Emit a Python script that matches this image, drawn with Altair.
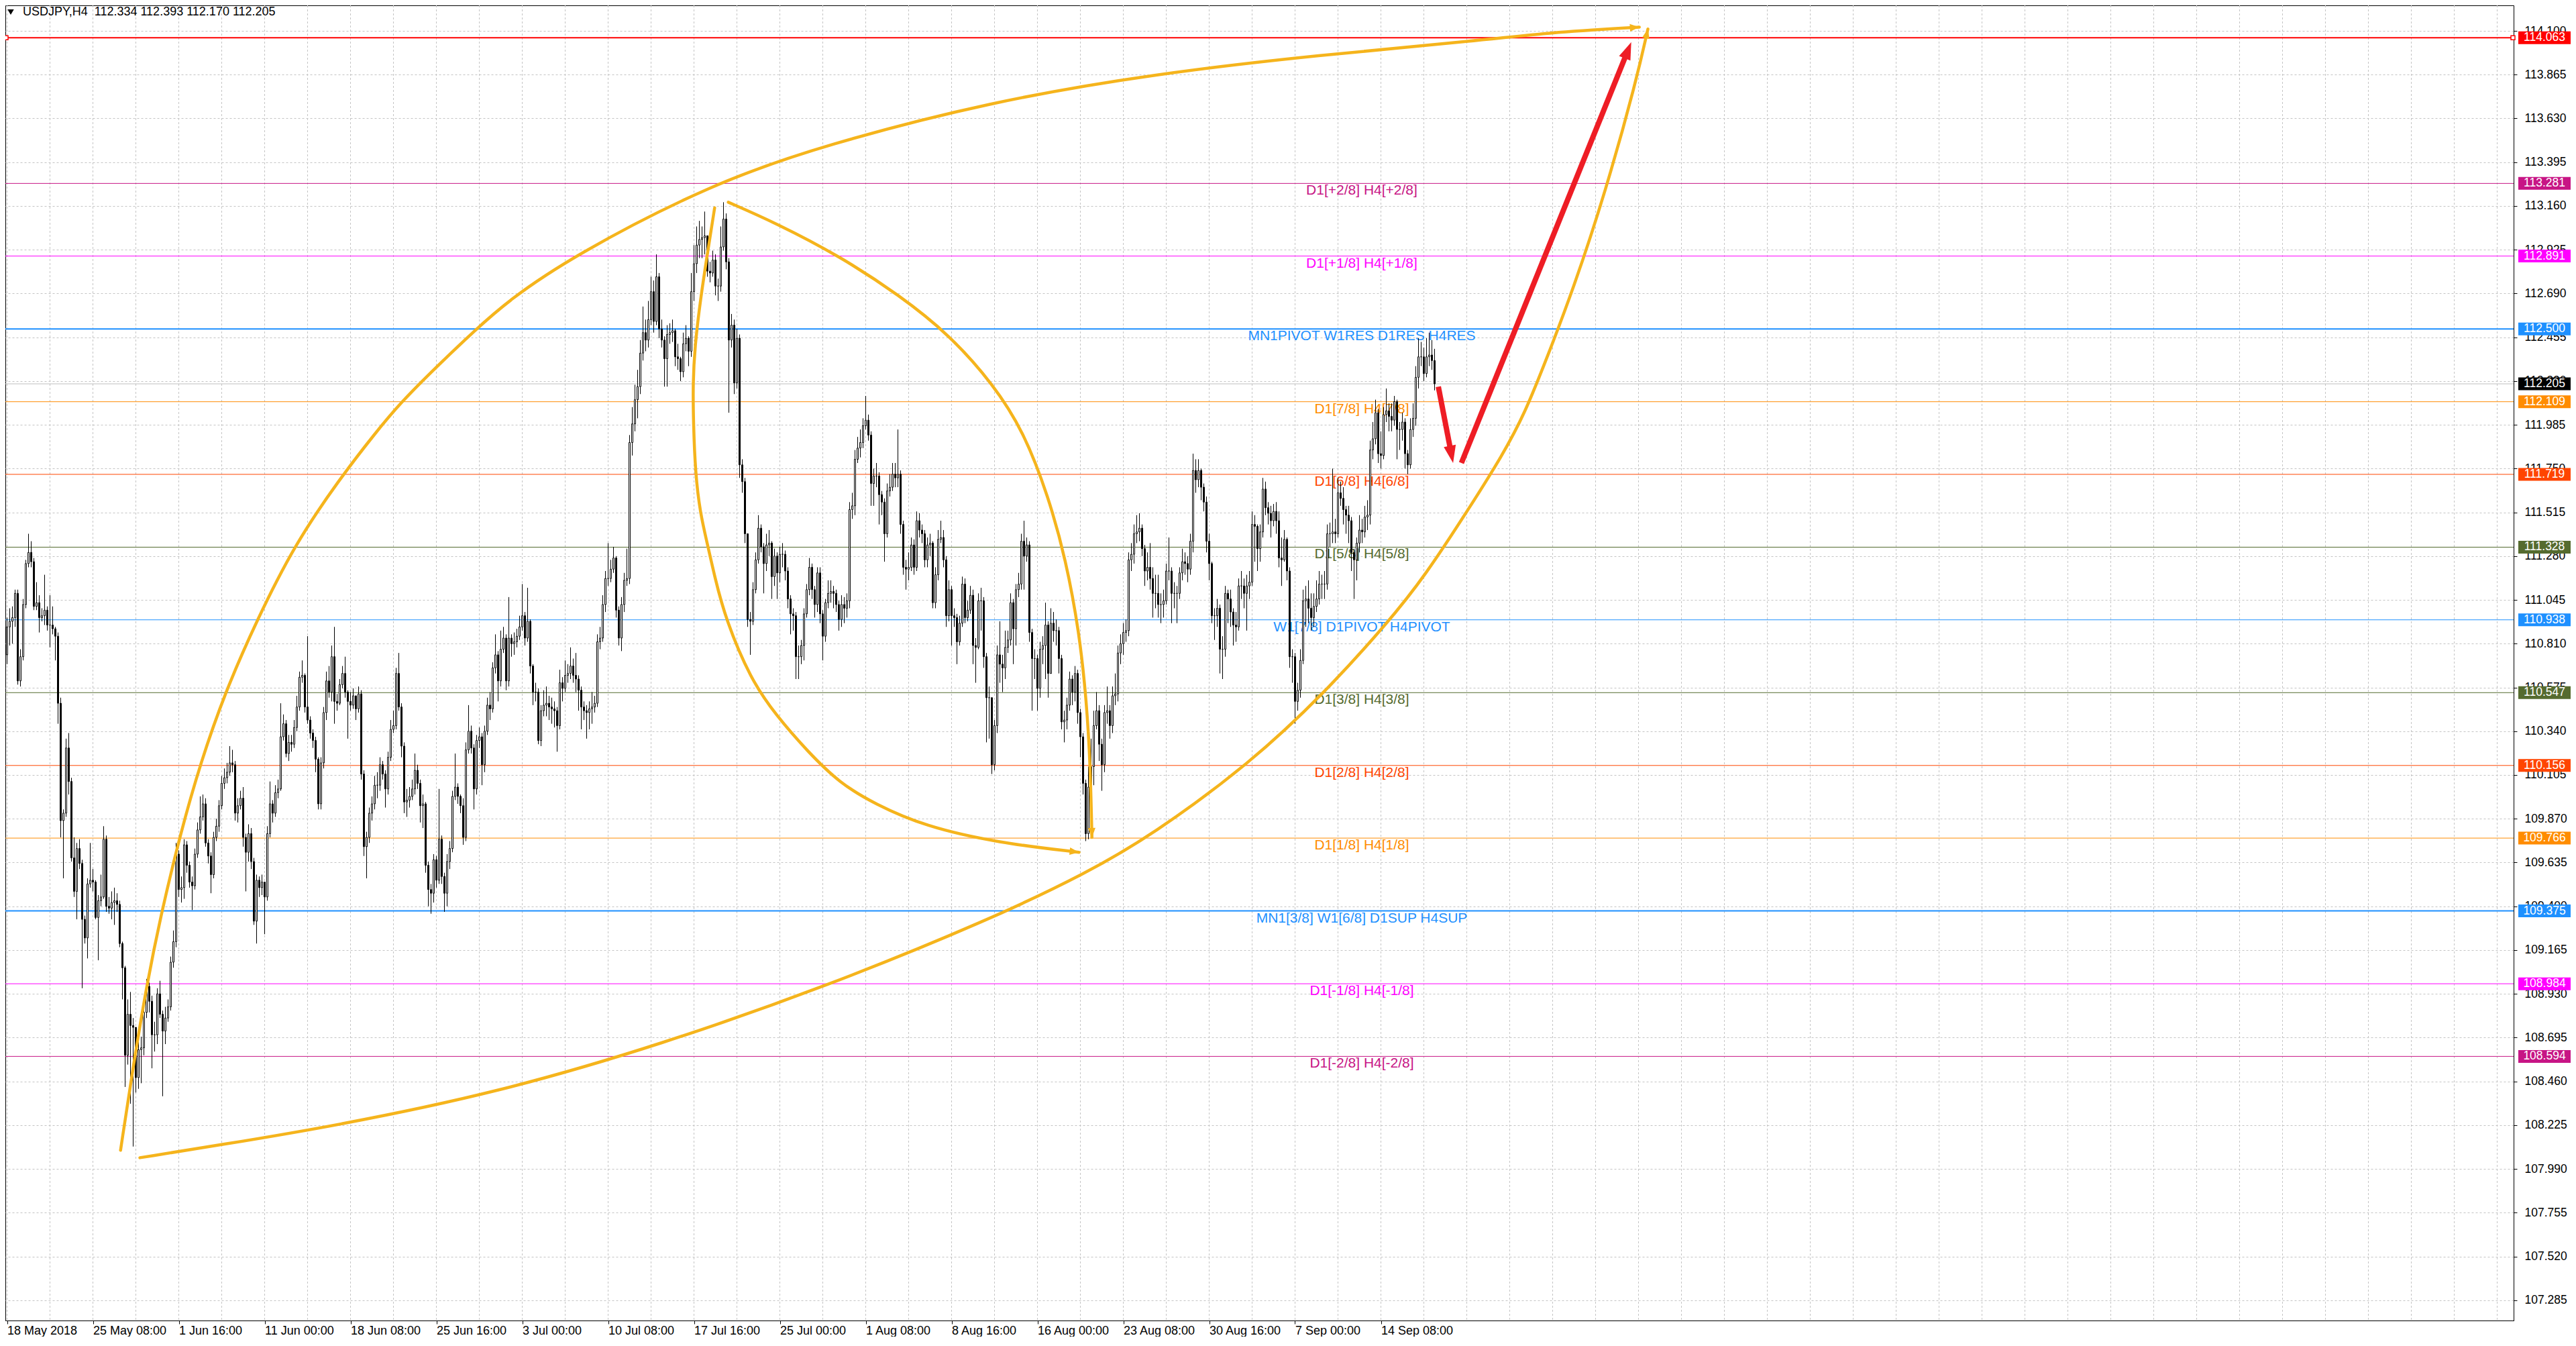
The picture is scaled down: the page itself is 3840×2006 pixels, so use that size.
import json
import math
import altair as alt
import pandas as pd

FONT = "Liberation Sans"
ORANGE = "#F5B41C"
RED_ARROW = "#EE1D25"

header_text = "USDJPY,H4\u00a0\u00a0112.334 112.393 112.170 112.205"

# ---------------- H4 candles ----------------
first_open = 110.75
closes = [
 110.90,110.93,110.95,111.08,110.61,110.74,111.02,111.24,111.30,111.25,
 111.01,111.03,110.95,110.96,110.99,110.91,110.91,110.89,110.85,110.49,
 109.86,109.90,110.25,110.07,109.66,109.48,109.71,109.63,109.33,109.23,
 109.52,109.54,109.53,109.34,109.43,109.45,109.76,109.40,109.39,109.42,
 109.43,109.41,109.20,109.07,108.60,108.82,108.76,108.75,108.48,108.63,
 108.64,108.83,108.97,108.89,108.71,108.71,108.93,108.82,108.73,108.80,
 108.86,109.10,109.21,109.68,109.49,109.50,109.73,109.62,109.53,109.51,
 109.68,109.81,109.88,109.95,109.74,109.67,109.57,109.77,109.83,109.94,
 110.06,110.09,110.12,110.17,110.16,109.90,109.94,109.98,109.77,109.69,
 109.79,109.64,109.32,109.54,109.50,109.53,109.45,109.79,109.95,109.90,
 110.01,110.03,110.31,110.38,110.22,110.28,110.27,110.36,110.47,110.63,
 110.64,110.47,110.40,110.33,110.29,110.19,109.95,110.17,110.44,110.61,
 110.55,110.74,110.50,110.49,110.59,110.65,110.55,110.50,110.48,110.53,
 110.46,110.54,110.11,109.72,109.77,109.90,109.95,110.05,110.05,110.16,
 110.11,110.03,110.20,110.35,110.37,110.65,110.47,110.26,109.96,109.97,
 109.99,110.03,110.13,110.06,109.94,109.95,109.62,109.49,109.47,109.65,
 109.54,109.76,109.56,109.47,109.64,109.71,109.99,110.04,109.99,109.94,
 109.77,110.24,110.34,110.25,110.03,110.29,110.31,110.16,110.34,110.48,
 110.46,110.68,110.75,110.61,110.78,110.84,110.61,110.84,110.81,110.82,
 110.85,110.90,110.96,110.84,110.93,110.69,110.55,110.55,110.29,110.45,
 110.48,110.49,110.47,110.46,110.45,110.37,110.60,110.57,110.64,110.65,
 110.69,110.64,110.62,110.56,110.47,110.45,110.44,110.46,110.47,110.49,
 110.82,110.84,111.02,111.16,111.16,111.21,111.27,110.99,110.84,111.02,
 111.15,111.16,111.89,111.99,112.12,112.19,112.37,112.48,112.44,112.55,
 112.70,112.54,112.78,112.50,112.44,112.34,112.47,112.48,112.49,112.35,
 112.34,112.27,112.42,112.45,112.38,112.70,112.85,112.95,112.98,112.99,
 113.00,112.81,112.80,112.87,112.73,112.73,112.94,113.09,112.86,112.44,
 112.52,112.21,112.45,111.77,111.68,111.40,110.94,110.93,111.10,111.26,
 111.43,111.33,111.24,111.34,111.35,111.17,111.28,111.19,111.29,111.29,
 111.20,111.05,110.97,110.96,110.74,110.74,110.80,110.97,111.10,111.22,
 111.10,111.02,111.19,110.97,110.85,111.03,111.08,111.09,111.08,111.02,
 110.94,111.02,111.00,111.04,111.53,111.55,111.80,111.86,111.89,111.98,
 112.01,111.93,111.67,111.71,111.71,111.61,111.57,111.40,111.63,111.65,
 111.72,111.70,111.72,111.45,111.22,111.21,111.22,111.34,111.22,111.47,
 111.42,111.40,111.26,111.34,111.35,111.03,111.18,111.37,111.38,111.26,
 110.96,111.10,110.96,110.95,110.82,110.92,111.13,110.95,110.99,111.07,
 110.80,110.79,111.04,111.04,110.74,110.52,110.52,110.16,110.37,110.75,
 110.70,110.68,110.79,110.83,111.03,110.89,111.10,111.13,111.36,111.28,
 111.34,110.87,110.73,110.73,110.57,110.78,110.80,110.91,110.65,110.92,
 110.88,110.88,110.73,110.39,110.40,110.48,110.62,110.55,110.65,110.44,
 110.31,110.06,109.79,110.04,110.15,110.37,110.45,110.27,110.16,110.44,
 110.45,110.37,110.53,110.54,110.76,110.81,110.87,110.88,111.26,111.29,
 111.40,111.41,111.43,111.32,111.20,111.22,111.16,111.08,111.08,111.02,
 111.02,111.04,111.20,111.20,111.08,111.08,111.08,111.19,111.25,111.24,
 111.21,111.36,111.74,111.69,111.74,111.65,111.57,111.36,111.24,110.96,
 110.96,111.00,110.78,110.78,111.08,111.05,110.98,110.91,110.90,111.12,
 111.12,111.08,111.12,111.14,111.45,111.44,111.32,111.41,111.64,111.54,
 111.51,111.47,111.52,111.47,111.27,111.26,111.37,111.20,110.74,110.74,
 110.50,110.56,110.72,111.04,111.05,111.00,110.95,111.01,111.05,111.13,
 111.13,111.13,111.40,111.40,111.41,111.40,111.62,111.59,111.53,111.50,
 111.47,111.30,111.26,111.35,111.42,111.41,111.49,111.50,111.85,111.91,
 112.05,111.83,111.82,112.04,112.06,112.03,112.01,112.11,111.96,111.96,
 112.00,111.83,111.77,111.96,112.02,112.24,112.35,112.35,112.26,112.35,
 112.36,112.33,112.205,
]
highs = [
 110.95,111.00,111.01,111.10,111.10,110.78,111.05,111.26,111.40,111.36,
 111.27,111.14,111.07,111.00,111.18,111.01,111.07,111.01,110.90,110.87,
 110.52,109.92,110.30,110.33,110.09,109.77,109.74,109.76,109.65,109.35,
 109.55,109.74,109.60,109.54,109.46,109.57,109.83,109.78,109.45,109.48,
 109.50,109.47,109.43,109.21,109.08,108.90,108.94,108.80,108.75,108.70,
 108.70,108.87,109.01,108.99,108.92,108.78,108.96,109.00,108.84,108.86,
 108.90,109.13,109.27,109.74,109.70,109.56,109.76,109.75,109.64,109.56,
 109.71,109.85,109.99,110.00,109.98,109.76,109.69,109.80,109.87,109.97,
 110.10,110.14,110.17,110.26,110.24,110.18,109.98,110.02,110.04,109.79,
 109.84,109.82,109.66,109.57,109.56,109.57,109.52,109.83,110.07,109.97,
 110.05,110.08,110.49,110.43,110.40,110.32,110.32,110.40,110.53,110.66,
 110.72,110.65,110.85,110.42,110.35,110.31,110.20,110.20,110.47,110.66,
 110.69,110.80,110.90,110.54,110.62,110.69,110.74,110.56,110.55,110.57,
 110.52,110.58,110.56,110.13,109.80,109.93,109.99,110.10,110.12,110.20,
 110.18,110.13,110.23,110.40,110.45,110.68,110.76,110.49,110.28,110.03,
 110.04,110.08,110.22,110.16,110.08,110.00,109.96,109.64,109.52,109.68,
 109.67,110.03,109.78,109.58,109.68,109.75,110.02,110.22,110.06,110.00,
 109.98,110.28,110.48,110.37,110.27,110.32,110.36,110.33,110.37,110.52,
 110.55,110.71,110.86,110.77,110.88,110.90,110.86,111.06,110.86,110.87,
 110.89,110.96,111.13,110.98,111.11,110.94,110.70,110.60,110.57,110.48,
 110.56,110.58,110.53,110.52,110.50,110.47,110.67,110.63,110.72,110.70,
 110.79,110.73,110.76,110.64,110.58,110.50,110.48,110.50,110.55,110.53,
 110.86,110.90,111.07,111.20,111.35,111.26,111.33,111.28,111.01,111.06,
 111.19,111.32,111.93,112.08,112.20,112.28,112.44,112.62,112.55,112.65,
 112.78,112.76,112.90,112.80,112.55,112.46,112.52,112.53,112.55,112.50,
 112.42,112.35,112.48,112.52,112.46,112.80,112.95,113.05,113.08,113.05,
 113.13,112.95,112.86,112.92,112.90,112.77,113.05,113.18,113.12,112.88,
 112.58,112.55,112.50,112.47,111.80,111.70,111.40,110.98,111.14,111.30,
 111.50,111.45,111.35,111.40,111.42,111.36,111.32,111.30,111.33,111.35,
 111.31,111.22,111.07,111.00,110.98,110.80,110.83,111.00,111.13,111.27,
 111.24,111.12,111.22,111.22,110.99,111.05,111.15,111.15,111.12,111.10,
 111.04,111.07,111.06,111.08,111.57,111.62,111.85,111.92,111.96,112.02,
 112.14,112.04,111.95,111.75,111.78,111.73,111.63,111.59,111.67,111.72,
 111.78,111.78,111.96,111.74,111.47,111.26,111.30,111.38,111.37,111.52,
 111.51,111.45,111.42,111.38,111.40,111.36,111.22,111.42,111.47,111.42,
 111.28,111.15,111.12,111.00,110.97,110.96,111.17,111.16,111.04,111.12,
 111.10,110.84,111.08,111.11,111.06,110.76,110.58,110.50,110.40,110.80,
 110.93,110.75,110.88,110.88,111.08,111.05,111.13,111.19,111.40,111.47,
 111.38,111.36,110.89,110.78,110.75,110.82,110.85,111.03,110.93,111.00,
 110.98,110.94,110.90,110.75,110.45,110.52,110.66,110.64,110.69,110.67,
 110.46,110.33,110.08,110.15,110.30,110.45,110.55,110.48,110.30,110.48,
 110.58,110.48,110.58,110.65,110.80,110.86,110.92,110.94,111.30,111.35,
 111.45,111.50,111.51,111.45,111.34,111.30,111.35,111.22,111.18,111.18,
 111.08,111.10,111.24,111.38,111.22,111.14,111.12,111.22,111.32,111.30,
 111.28,111.40,111.83,111.80,111.80,111.75,111.67,111.60,111.40,111.25,
 111.00,111.05,111.02,110.85,111.12,111.10,111.10,111.00,110.98,111.16,
 111.20,111.16,111.18,111.20,111.52,111.50,111.45,111.45,111.70,111.68,
 111.57,111.55,111.56,111.57,111.52,111.38,111.42,111.38,111.22,110.78,
 110.76,110.60,110.78,111.10,111.12,111.15,111.08,111.08,111.15,111.20,
 111.18,111.20,111.45,111.46,111.75,111.48,111.70,111.68,111.65,111.55,
 111.55,111.49,111.32,111.38,111.50,111.48,111.55,111.58,111.90,112.00,
 112.12,112.07,111.95,112.08,112.18,112.10,112.10,112.14,112.12,112.00,
 112.05,112.02,111.85,112.02,112.10,112.30,112.45,112.43,112.40,112.45,
 112.48,112.44,112.393,
]
lows = [
 110.70,110.80,110.81,110.90,110.59,110.58,110.72,111.00,111.22,111.22,
 110.99,110.99,110.87,110.93,110.91,110.88,110.79,110.86,110.72,110.38,
 109.77,109.55,109.88,110.00,109.64,109.45,109.33,109.60,108.96,109.20,
 109.12,109.50,109.48,109.33,109.11,109.40,109.44,109.37,109.36,109.33,
 109.30,109.37,109.18,108.90,108.43,108.55,108.34,108.11,108.40,108.42,
 108.45,108.60,108.80,108.83,108.53,108.62,108.66,108.80,108.38,108.66,
 108.78,108.84,109.07,109.18,109.45,109.42,109.44,109.58,109.50,109.38,
 109.49,109.66,109.79,109.86,109.72,109.63,109.47,109.55,109.75,109.80,
 109.92,110.03,110.06,110.10,110.12,109.86,109.85,109.92,109.72,109.48,
 109.64,109.60,109.30,109.20,109.45,109.46,109.25,109.43,109.77,109.85,
 109.88,109.98,110.02,110.29,110.20,110.18,110.23,110.25,110.34,110.45,
 110.60,110.44,110.38,110.30,110.25,110.12,109.92,109.92,110.14,110.40,
 110.52,110.50,110.38,110.45,110.48,110.57,110.52,110.30,110.45,110.46,
 110.40,110.44,110.08,109.67,109.55,109.74,109.86,109.92,109.98,110.02,
 110.08,109.93,110.00,110.18,110.33,110.35,110.45,110.20,109.90,109.88,
 109.93,109.97,110.00,110.03,109.85,109.82,109.58,109.40,109.36,109.42,
 109.50,109.52,109.52,109.37,109.40,109.60,109.69,109.97,109.95,109.90,
 109.73,109.75,110.22,110.22,109.92,110.00,110.25,110.05,110.12,110.32,
 110.40,110.44,110.65,110.50,110.58,110.76,110.56,110.58,110.74,110.75,
 110.79,110.83,110.88,110.80,110.82,110.65,110.48,110.50,110.27,110.26,
 110.42,110.42,110.40,110.38,110.36,110.23,110.35,110.50,110.55,110.60,
 110.62,110.60,110.55,110.45,110.35,110.40,110.30,110.35,110.38,110.44,
 110.47,110.78,110.82,110.98,111.12,111.14,111.19,110.95,110.80,110.77,
 110.98,111.12,111.13,111.82,111.95,112.02,112.15,112.33,112.38,112.40,
 112.52,112.48,112.52,112.45,112.40,112.19,112.19,112.42,112.43,112.30,
 112.28,112.22,112.24,112.38,112.30,112.35,112.65,112.80,112.88,112.88,
 112.90,112.78,112.75,112.78,112.68,112.65,112.70,112.92,112.82,112.05,
 112.40,112.15,112.18,111.70,111.62,111.35,110.90,110.75,110.91,111.08,
 111.24,111.30,111.08,111.20,111.28,111.05,111.12,111.05,111.14,111.22,
 111.15,111.00,110.86,110.88,110.62,110.62,110.70,110.72,110.95,111.07,
 111.05,110.95,110.98,110.92,110.72,110.82,111.00,111.03,111.00,110.98,
 110.88,110.90,110.92,110.95,111.00,111.48,111.50,111.78,111.81,111.86,
 111.96,111.90,111.55,111.55,111.65,111.45,111.50,111.25,111.38,111.60,
 111.63,111.65,111.65,111.40,111.18,111.10,111.15,111.20,111.18,111.20,
 111.38,111.35,111.22,111.22,111.28,111.00,111.00,111.15,111.35,111.22,
 110.90,110.93,110.80,110.90,110.70,110.80,110.90,110.92,110.93,110.97,
 110.70,110.60,110.78,110.88,110.68,110.28,110.30,110.11,110.13,110.33,
 110.60,110.55,110.62,110.76,110.80,110.70,110.80,111.06,111.10,111.10,
 111.25,110.82,110.45,110.62,110.45,110.52,110.70,110.62,110.52,110.80,
 110.82,110.80,110.65,110.35,110.28,110.35,110.45,110.48,110.50,110.38,
 110.20,110.00,109.75,109.76,109.95,110.05,110.35,110.18,110.02,110.12,
 110.38,110.30,110.33,110.48,110.50,110.70,110.75,110.82,110.85,111.20,
 111.24,111.35,111.36,111.28,111.12,111.15,111.10,110.95,111.00,110.95,
 110.92,110.95,111.02,111.15,110.92,111.00,110.92,111.05,111.15,111.18,
 111.14,111.18,111.30,111.62,111.65,111.58,111.52,111.30,111.15,110.92,
 110.83,110.90,110.65,110.62,110.74,110.92,110.90,110.80,110.82,110.88,
 111.05,111.00,110.88,111.05,111.12,111.25,111.20,111.25,111.38,111.50,
 111.45,111.38,111.44,111.40,111.22,111.12,111.25,111.15,110.68,110.60,
 110.38,110.45,110.52,110.70,110.90,110.92,110.88,110.90,110.98,111.02,
 111.05,111.05,111.10,111.33,111.35,111.35,111.38,111.55,111.45,111.40,
 111.35,111.20,111.05,111.15,111.30,111.35,111.38,111.42,111.45,111.80,
 111.88,111.78,111.75,111.80,112.00,111.95,111.95,111.98,111.80,111.85,
 111.90,111.75,111.72,111.75,111.92,111.98,112.18,112.30,112.22,112.24,
 112.30,112.28,112.170,
]

# ---------------- axes ----------------
x_tick_bars = [0, 32, 64, 96, 128, 160, 192, 224, 256, 288, 320, 352, 384, 416, 448, 480, 512]
x_tick_labels = ["18 May 2018", "25 May 08:00", "1 Jun 16:00", "11 Jun 00:00", "18 Jun 08:00",
                 "25 Jun 16:00", "3 Jul 00:00", "10 Jul 08:00", "17 Jul 16:00", "25 Jul 00:00",
                 "1 Aug 08:00", "8 Aug 16:00", "16 Aug 00:00", "23 Aug 08:00", "30 Aug 16:00",
                 "7 Sep 00:00", "14 Sep 08:00"]
y_tick_values = [107.285, 107.520, 107.755, 107.990, 108.225, 108.460, 108.695, 108.930,
                 109.165, 109.400, 109.635, 109.870, 110.105, 110.340, 110.575, 110.810,
                 111.045, 111.280, 111.515, 111.750, 111.985, 112.220, 112.455, 112.690,
                 112.925, 113.160, 113.395, 113.630, 113.865, 114.100]

# ---------------- horizontal levels ----------------
level_prices = [114.063, 113.281, 112.891, 112.500, 112.109, 111.719, 111.328,
                110.938, 110.547, 110.156, 109.766, 109.375, 108.984, 108.594]
level_labels = ["", "D1[+2/8] H4[+2/8]", "D1[+1/8] H4[+1/8]", "MN1PIVOT W1RES D1RES H4RES",
                "D1[7/8] H4[7/8]", "D1[6/8] H4[6/8]", "D1[5/8] H4[5/8]", "W1[7/8] D1PIVOT H4PIVOT",
                "D1[3/8] H4[3/8]", "D1[2/8] H4[2/8]", "D1[1/8] H4[1/8]",
                "MN1[3/8] W1[6/8] D1SUP H4SUP", "D1[-1/8] H4[-1/8]", "D1[-2/8] H4[-2/8]"]
level_colors = ["#FF0000", "#C71585", "#FF00FF", "#1E90FF", "#FF8C00", "#FF4500", "#556B2F",
                "#1E90FF", "#556B2F", "#FF4500", "#FF8C00", "#1E90FF", "#FF00FF", "#C71585"]
level_widths = [2, 1, 1, 2, 1, 1, 1, 1, 1, 1, 1, 2, 1, 1]
bid_price = 112.205

# ---------------- drawn curves (bar index, price) ----------------
curve_a_bars = [42.3, 47.1, 52.1, 57.1, 64.6, 72.1, 81.3, 92.9, 107.1, 123.7, 137.2, 146.4,
                160.3, 174.2, 186.6, 210.6, 262.6, 305.3, 366.5, 427.7, 488.8, 550.0, 573.9, 608.3]
curve_a_prices = [108.09, 108.55, 108.98, 109.34, 109.79, 110.17, 110.55, 110.93, 111.34, 111.69,
                  111.94, 112.10, 112.30, 112.49, 112.65, 112.89, 113.28, 113.49, 113.72, 113.87,
                  113.97, 114.05, 114.09, 114.12]
curve_b_bars = [49.5, 80.0, 121.9, 183.0, 244.2, 305.4, 366.5, 402.5, 426.5, 463.5, 491.3, 514.4,
                528.3, 545.9, 557.2, 565.6, 573.9, 583.6, 595.8, 607.2, 611.5]
curve_b_prices = [108.05, 108.12, 108.22, 108.40, 108.66, 108.97, 109.33, 109.58, 109.78, 110.17,
                  110.55, 110.92, 111.17, 111.56, 111.82, 112.045, 112.345, 112.71, 113.24, 113.834,
                  114.11]
curve_c_bars = [263.7, 261.5, 258.3, 256.3, 255.6, 255.8, 256.5, 258.3, 261.1, 263.7, 267.8,
                277.1, 286.3, 298.4, 310.4, 323.3, 341.8, 369.6, 399.5]
curve_c_prices = [113.15, 112.95, 112.65, 112.40, 112.21, 111.99, 111.73, 111.51, 111.34, 111.17,
                  110.94, 110.62, 110.43, 110.23, 110.06, 109.95, 109.83, 109.74, 109.69]
curve_d_bars = [268.8, 286.3, 310.4, 332.6, 351.1, 367.7, 378.8, 388.1, 394.6, 399.6, 402.3,
                403.7, 404.3]
curve_d_prices = [113.18, 113.07, 112.89, 112.68, 112.47, 112.20, 111.95, 111.60, 111.26, 110.87,
                  110.50, 110.16, 109.77]

# red arrows (start -> tip)
arrow_start_bars = [533.4, 542.0]
arrow_start_prices = [112.19, 111.78]
arrow_tip_bars = [538.9, 605.3]
arrow_tip_prices = [111.78, 114.04]

# ---------------- geometry ----------------
W, H = 3739, 1960
X_MIN, X_MAX = -0.625, 934.125          # exactly 4 px per H4 bar
Y_MIN, Y_MAX = 107.176, 114.237
PXB = W / (X_MAX - X_MIN)
PXP = H / (Y_MAX - Y_MIN)

xs = alt.Scale(domain=[X_MIN, X_MAX], nice=False, zero=False)
ys = alt.Scale(domain=[Y_MIN, Y_MAX], nice=False, zero=False)

x_axis = alt.Axis(values=x_tick_bars,
                  labelExpr=json.dumps(x_tick_labels) + "[round(datum.value / 32)]",
                  title=None, grid=False, ticks=True, tickSize=5, tickColor="black",
                  domain=True, domainColor="black", labelAlign="left", labelBaseline="top",
                  labelPadding=1, labelFont=FONT, labelFontSize=18, labelColor="black",
                  labelOverlap=False, labelFlush=False, labelBound=False)
y_axis = alt.Axis(orient="right", values=y_tick_values, format=".3f", title=None,
                  grid=True, gridColor="#C4C4C4", gridDash=[3, 3], gridWidth=1,
                  ticks=True, tickSize=5, tickColor="black", domain=True, domainColor="black",
                  labelFont=FONT, labelFontSize=17.5, labelColor="black", labelPadding=11,
                  labelAlign="left", labelBaseline="middle", labelOverlap=False,
                  labelFlush=False, labelBound=False)


def X(f):
    return alt.X(f, type="quantitative", scale=xs, axis=x_axis)


def Y(f):
    return alt.Y(f, type="quantitative", scale=ys, axis=y_axis)


# ---------------- data frames ----------------
n = min(len(closes), len(highs), len(lows))
opens = [first_open] + closes[: n - 1]
cdf = pd.DataFrame({
    "bar": list(range(n)),
    "open": opens,
    "close": closes[:n],
    "high": [max(highs[i], opens[i], closes[i]) for i in range(n)],
    "low": [min(lows[i], opens[i], closes[i]) for i in range(n)],
})
cdf["dir"] = ["up" if c >= o else "down" for o, c in zip(cdf["open"], cdf["close"])]

ldf = pd.DataFrame({"price": level_prices, "label": level_labels,
                    "color": level_colors, "w": level_widths})
tdf = ldf[ldf["label"] != ""]
bdf = pd.DataFrame({"price": level_prices + [bid_price],
                    "color": level_colors + ["#000000"]})
bdf["label"] = [f"{p:.3f}" for p in bdf["price"]]

curve_rows = []
for name, bs, ps in [("a", curve_a_bars, curve_a_prices), ("b", curve_b_bars, curve_b_prices),
                     ("c", curve_c_bars, curve_c_prices), ("d", curve_d_bars, curve_d_prices)]:
    for i, (b, p) in enumerate(zip(bs, ps)):
        curve_rows.append({"curve": name, "i": i, "bar": b, "price": p})
curve_df = pd.DataFrame(curve_rows)


def head(tail_b, tail_p, tip_b, tip_p, length):
    dx = (tip_b - tail_b) * PXB
    dy = -(tip_p - tail_p) * PXP
    d = math.hypot(dx, dy)
    ux, uy = dx / d, dy / d
    ang = math.degrees(math.atan2(ux, -uy)) % 360
    cb = tip_b - ux * length / 2 / PXB
    cp = tip_p + uy * length / 2 / PXP
    return {"bar": cb, "price": cp, "ang": ang}


O_LEN = 14
R_LEN = 26
ohead_df = pd.DataFrame([head(bs[-2], ps[-2], bs[-1], ps[-1], O_LEN) for bs, ps in
                         [(curve_a_bars, curve_a_prices), (curve_b_bars, curve_b_prices),
                          (curve_c_bars, curve_c_prices), (curve_d_bars, curve_d_prices)]])
rheads = [head(sb, sp, tb, tp, R_LEN) for sb, sp, tb, tp in
          zip(arrow_start_bars, arrow_start_prices, arrow_tip_bars, arrow_tip_prices)]
rhead_df = pd.DataFrame(rheads)
rline_df = pd.DataFrame({"bar": arrow_start_bars, "price": arrow_start_prices,
                         "bar2": [h["bar"] for h in rheads], "price2": [h["price"] for h in rheads]})

grid_df = pd.DataFrame({"bar": list(range(0, 935, 16))})
hdf = pd.DataFrame({"t": [header_text]})
red_df = pd.DataFrame({"price": [level_prices[0]]})
bid_df = pd.DataFrame({"price": [bid_price]})

# ---------------- layers ----------------
vgrid = alt.Chart(grid_df).mark_rule(color="#C4C4C4", strokeDash=[3, 3], strokeWidth=1).encode(x=X("bar"))

levels = alt.Chart(ldf).mark_rule().encode(
    y=Y("price"),
    color=alt.Color("color:N", scale=None),
    strokeWidth=alt.StrokeWidth("w:Q", scale=None),
)
bidline = alt.Chart(bid_df).mark_rule(color="#C0C0C0", strokeWidth=1).encode(y=Y("price"))

texts = alt.Chart(tdf).mark_text(font=FONT, fontSize=21, align="center", baseline="middle", dy=11).encode(
    x=alt.value(2022), y=Y("price"), text="label:N", color=alt.Color("color:N", scale=None))

wicks = alt.Chart(cdf).mark_rule(color="black", strokeWidth=1).encode(x=X("bar"), y=Y("low"), y2="high")
bodies = alt.Chart(cdf).mark_rect(xOffset=-1, x2Offset=1, stroke="black", strokeWidth=1).encode(
    x=X("bar"), x2="bar", y=Y("open"), y2="close",
    fill=alt.Fill("dir:N", scale=alt.Scale(domain=["up", "down"], range=["white", "black"]), legend=None),
)

curves = alt.Chart(curve_df).mark_line(color=ORANGE, strokeWidth=4.5, interpolate="basis",
                                       strokeCap="round").encode(
    x=X("bar"), y=Y("price"), detail="curve:N", order="i:Q")
oheads = alt.Chart(ohead_df).mark_point(shape="M0,-1L0.8,1L-0.8,1Z", filled=True, color=ORANGE,
                                        opacity=1, size=O_LEN * O_LEN, strokeWidth=0).encode(
    x=X("bar"), y=Y("price"), angle=alt.Angle("ang:Q", scale=None))

rlines = alt.Chart(rline_df).mark_rule(color=RED_ARROW, strokeWidth=8, strokeCap="butt").encode(
    x=X("bar"), y=Y("price"), x2="bar2", y2="price2")
rheads_l = alt.Chart(rhead_df).mark_point(shape="M0,-1L0.7,1L-0.7,1Z", filled=True, color=RED_ARROW,
                                          opacity=1, size=R_LEN * R_LEN, strokeWidth=0).encode(
    x=X("bar"), y=Y("price"), angle=alt.Angle("ang:Q", scale=None))

handle_l = alt.Chart(red_df).mark_point(shape="square", size=36, fill="white", stroke="#FF0000",
                                        strokeWidth=1.5, opacity=1, fillOpacity=1).encode(
    x=alt.value(1), y=Y("price"))
handle_r = alt.Chart(red_df).mark_point(shape="square", size=36, fill="white", stroke="#FF0000",
                                        strokeWidth=1.5, opacity=1, fillOpacity=1).encode(
    x=alt.value(W - 1), y=Y("price"))

boxes = alt.Chart(bdf).mark_rect(yOffset=-9.5, y2Offset=9.5).encode(
    x=alt.value(W + 7), x2=alt.value(W + 85), y=Y("price"), y2="price",
    color=alt.Color("color:N", scale=None))
boxtext = alt.Chart(bdf).mark_text(font=FONT, fontSize=17.5, color="white", align="center",
                                   baseline="middle").encode(
    x=alt.value(W + 46), y=Y("price"), text="label:N")

tri = alt.Chart(hdf).mark_point(shape="triangle-down", filled=True, color="black", size=90,
                                opacity=1).encode(x=alt.value(8), y=alt.value(10))
header = alt.Chart(hdf).mark_text(font=FONT, fontSize=18, align="left", baseline="middle",
                                  color="black").encode(x=alt.value(26), y=alt.value(10), text="t:N")

chart = alt.layer(
    vgrid, levels, bidline, texts, wicks, bodies, curves, oheads, rlines, rheads_l,
    handle_l, handle_r, boxes, boxtext, tri, header,
).properties(
    width=W, height=H,
    padding={"left": 0, "top": 0, "right": 85, "bottom": 24},
    autosize=alt.AutoSizeParams(type="none"),
    background="white",
).configure_view(stroke="black", strokeWidth=1)

chart.save("out.html", embed_options={"renderer": "svg", "actions": False})
